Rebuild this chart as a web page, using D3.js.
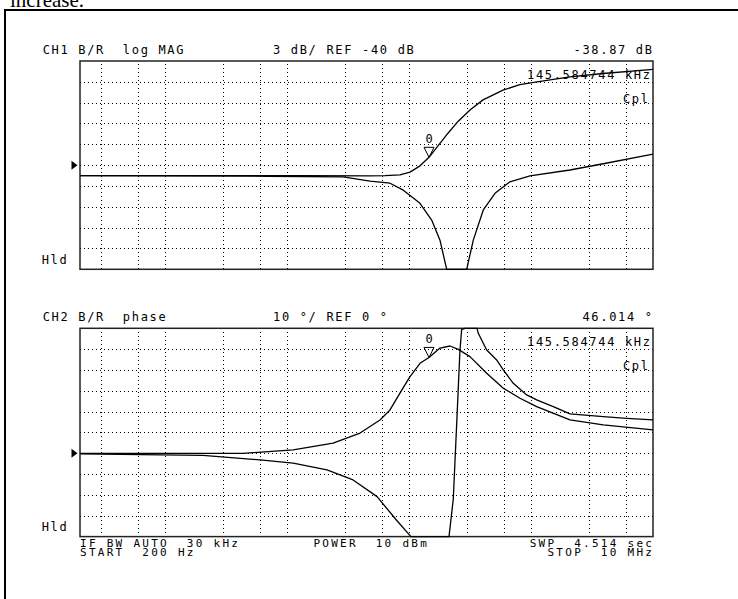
<!DOCTYPE html>
<html>
<head>
  <meta charset="utf-8">
  <title>Network analyzer: log MAG and phase</title>
  <script src="https://d3js.org/d3.v7.min.js"></script>
  <style>
    body { margin: 0; background: #fff; }
    .mono {
      font-family: "DejaVu Sans Mono", monospace;
      font-size: 12px;
      letter-spacing: 1.68px;
      white-space: pre;
      fill: #000;
    }
    .mono.small { font-size: 11px; letter-spacing: 2.28px; }
    .grid line { stroke: #000; stroke-width: 1; stroke-dasharray: 1,3; shape-rendering: crispEdges; }
    .grid path { display: none; }
    .trace { fill: none; stroke: #000; stroke-width: 1.3; stroke-linejoin: round; }
    .frame { fill: none; stroke: #222; stroke-width: 1.5; }
  </style>
</head>
<body>
<script>
// sweep (Hz) and the dotted frequency grid of the log display
var freqStart = 200, freqStop = 1e7;
var gridFreqs = [300, 600, 1e3, 3e3, 6e3, 1e4, 3e4, 6e4, 1e5, 3e5, 6e5, 1e6, 3e6, 6e6];

// CH1 log MAG, two traces (frequency in kHz, value in dB)
var magUpperKHz = [0.2, 1.93, 12.7, 47.8, 63.4, 84.1, 101.7, 122.8, 145.58, 169.4, 208.4, 251.8, 315.6, 403.6, 588.8, 811, 1119, 2086, 3890, 10000];
var magUpperDB  = [-41.5, -41.5, -41.5, -41.55, -41.5, -41.4, -41.0, -40.1, -38.87, -37.4, -35.4, -33.7, -32.05, -30.6, -29.2, -28.4, -28.0, -27.3, -26.8, -26.2];
var magLowerKHz = [0.2, 6.8, 28.7, 47.8, 69.7, 89.6, 122.8, 153.1, 179.1, 203.3, 242, 296.6, 336, 405.8, 506, 671, 979.6, 2086, 3908, 10000];
var magLowerDB  = [-41.5, -41.6, -41.7, -42.3, -42.6, -43.6, -45.5, -47.9, -50.8, -55, -62, -55, -50.8, -46.45, -44.05, -42.4, -41.55, -40.7, -39.8, -38.4];

// CH2 phase, two traces (frequency in kHz, value in degrees)
var phaseHumpKHz = [0.2, 4.35, 11.2, 23.8, 39.6, 57.7, 69.7, 84.1, 101.7, 122.8, 145.58, 179.1, 216.3, 253, 315.6, 432.6, 592, 811, 1112, 2086, 3908, 10000];
var phaseHumpDeg = [0, 0, 1.6, 4.9, 9.7, 16, 20.8, 28.9, 36.8, 43.2, 46.0, 50.5, 51.5, 49.9, 46.4, 38.4, 31.2, 26.4, 22.4, 16, 13.6, 11.2];
var phaseWrapKHz = [0.2, 2.04, 5.98, 11.2, 21.2, 34.7, 54.6, 78, 103.5, 122.8, 163, 196.8, 212.4, 230.2, 245.5, 261.2, 269.8, 287.4, 328, 360.6, 369.2, 405.8, 432.6, 522.4, 592, 714.8, 920.6, 1112, 1520.6, 2086, 3908, 6082, 10000];
var phaseWrapDeg = [-0.3, -1.0, -3.2, -4.7, -8.0, -12.8, -20.8, -31.8, -40, -55, -70, -60, -40, -22, 14, 49.6, 59.5, 68, 68, 60, 57.6, 52.8, 49.6, 44.8, 40, 33.6, 28, 25.6, 22.4, 18.9, 17.6, 16.8, 16];

// marker 0
var markerKHz = 145.584744;
var markerDB = -38.87, markerDeg = 46.014;

// annotation text
var ch1Header = ["CH1 B/R  log MAG", "3 dB/ REF -40 dB", "-38.87 dB"];
var ch2Header = ["CH2 B/R  phase", "10 °/ REF 0 °", "46.014 °"];
var markerText = ["145.584744 kHz", "Cpl"];
var footerLine1 = ["IF BW AUTO  30 kHz", "POWER  10 dBm", "SWP  4.514 sec"];
var footerLine2 = ["START  200 Hz", "STOP  10 MHz"];

var W = 738, H = 599;
var left = 80, right = 653, plotH = 208.3;
var ls = 1.68;

var svg = d3.select("body").append("svg")
  .attr("width", W)
  .attr("height", H);

// page text cut by the top of the picture and the figure frame
svg.append("text")
  .attr("x", 10).attr("y", 6.5)
  .style("font-family", "'Liberation Serif', serif")
  .style("font-size", "21px")
  .text("increase.");

svg.append("path")
  .attr("d", "M5," + H + " V10 H" + W)
  .attr("fill", "none")
  .attr("stroke", "#000")
  .attr("stroke-width", 2);

var x = d3.scaleLog()
  .domain([freqStart, freqStop])
  .range([left, right]);

function drawPanel(top, yDomain, refValue, header, traces, markerValue) {
  var y = d3.scaleLinear()
    .domain(yDomain)
    .range([top + plotH, top])
    .clamp(true);
  var step = (yDomain[1] - yDomain[0]) / 10;

  // dotted grid
  svg.append("g")
    .attr("class", "grid")
    .attr("transform", "translate(" + left + ",0)")
    .call(d3.axisLeft(y)
      .tickValues(d3.range(1, 10).map(function(i) { return yDomain[0] + i * step; }))
      .tickSize(-(right - left))
      .tickFormat(""));

  svg.append("g")
    .attr("class", "grid")
    .attr("transform", "translate(0," + (top + plotH) + ")")
    .call(d3.axisBottom(x)
      .tickValues(gridFreqs)
      .tickSize(-plotH)
      .tickFormat(""));

  svg.append("rect")
    .attr("class", "frame")
    .attr("x", left).attr("y", top)
    .attr("width", right - left).attr("height", plotH);

  // reference position arrow
  var ry = y(refValue);
  svg.append("path")
    .attr("d", "M71.5," + (ry - 4.5) + " L77.5," + ry + " L71.5," + (ry + 4.5) + " Z")
    .attr("fill", "#000");

  // traces
  var line = d3.line()
    .x(function(d) { return x(d[0] * 1000); })
    .y(function(d) { return y(d[1]); });
  traces.forEach(function(t) {
    svg.append("path")
      .datum(d3.zip(t[0], t[1]))
      .attr("class", "trace")
      .attr("d", line);
  });

  // header row
  svg.append("text").attr("class", "mono")
    .attr("x", 42.7).attr("y", top - 7)
    .text(header[0]);
  svg.append("text").attr("class", "mono")
    .attr("x", 273).attr("y", top - 7)
    .text(header[1]);
  svg.append("text").attr("class", "mono")
    .attr("x", right + ls - 1).attr("y", top - 7)
    .attr("text-anchor", "end")
    .text(header[2]);

  svg.append("text").attr("class", "mono")
    .attr("x", 41.7).attr("y", top + 202.5)
    .text("Hld");

  // marker readout inside the plot
  svg.append("text").attr("class", "mono")
    .attr("x", right + ls - 3).attr("y", top + 18)
    .attr("text-anchor", "end")
    .text(markerText[0]);
  svg.append("text").attr("class", "mono")
    .attr("x", right + ls - 5).attr("y", top + 42)
    .attr("text-anchor", "end")
    .text(markerText[1]);

  // marker symbol
  var mx = x(markerKHz * 1000), my = y(markerValue);
  svg.append("path")
    .attr("d", "M" + (mx - 5) + "," + (my - 10) + " L" + (mx + 5) + "," + (my - 10) + " L" + mx + "," + my + " Z")
    .attr("fill", "none")
    .attr("stroke", "#000")
    .attr("stroke-width", 1);
  svg.append("text").attr("class", "mono")
    .attr("x", mx).attr("y", my - 14.5)
    .attr("text-anchor", "middle")
    .style("letter-spacing", "0px")
    .text("0");
}

drawPanel(61, [-55, -25], -40, ch1Header,
  [[magUpperKHz, magUpperDB], [magLowerKHz, magLowerDB]], markerDB);
drawPanel(328.3, [-40, 60], 0, ch2Header,
  [[phaseHumpKHz, phaseHumpDeg], [phaseWrapKHz, phaseWrapDeg]], markerDeg);

// footer rows, packed tight as on the instrument screen
var colW = 8.9, sls = 2.28;
svg.append("text").attr("class", "mono small").attr("x", left).attr("y", 547.3).text(footerLine1[0]);
svg.append("text").attr("class", "mono small").attr("x", left + 26 * colW + 2).attr("y", 547.3).text(footerLine1[1]);
svg.append("text").attr("class", "mono small").attr("x", right + sls - 1).attr("y", 547.3).attr("text-anchor", "end").text(footerLine1[2]);
svg.append("text").attr("class", "mono small").attr("x", left).attr("y", 556.4).text(footerLine2[0]);
svg.append("text").attr("class", "mono small").attr("x", right + sls - 1).attr("y", 556.4).attr("text-anchor", "end").text(footerLine2[1]);
</script>
</body>
</html>
